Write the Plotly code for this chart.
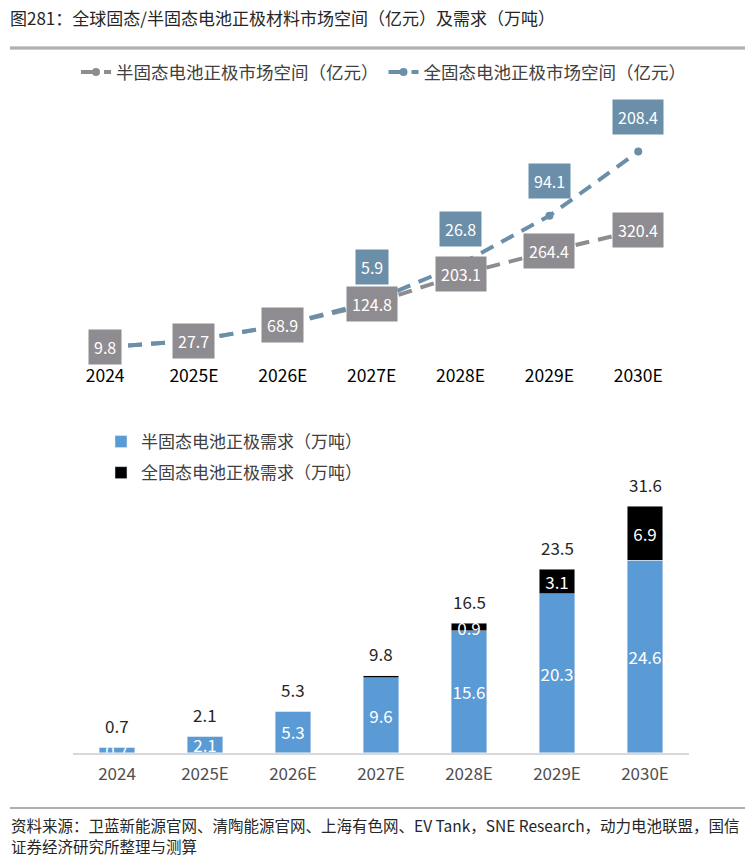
import plotly.graph_objects as go

# ---------------- data ----------------
years = ["2024", "2025E", "2026E", "2027E", "2028E", "2029E", "2030E"]
semi_market = [9.8, 27.7, 68.9, 124.8, 203.1, 264.4, 320.4]      # 亿元
all_market = [0, 0, 0, 5.9, 26.8, 94.1, 208.4]                    # 亿元
semi_demand = [0.7, 2.1, 5.3, 9.6, 15.6, 20.3, 24.6]              # 万吨
all_demand = [0, 0, 0, 0.2, 0.9, 3.1, 6.9]                        # 万吨
total_demand = [0.7, 2.1, 5.3, 9.8, 16.5, 23.5, 31.6]             # 万吨

title_text = "图281：全球固态/半固态电池正极材料市场空间（亿元）及需求（万吨）"
source_line1 = "资料来源：卫蓝新能源官网、清陶能源官网、上海有色网、EV Tank，SNE Research，动力电池联盟，国信"
source_line2 = "证券经济研究所整理与测算"
name_semi_m = "半固态电池正极市场空间（亿元）"
name_all_m = "全固态电池正极市场空间（亿元）"
name_semi_d = "半固态电池正极需求（万吨）"
name_all_d = "全固态电池正极需求（万吨）"

FONT = "Noto Sans CJK SC, Noto Sans, sans-serif"
GREY = "#8e8c90"
BLUEGREY = "#6b8fa9"
BAR_BLUE = "#5b9bd5"
RULE = "#b0b0b0"

W, H = 752, 858
def py(px):
    return 1 - px / H
def px_x(px):
    return px / W

xi = list(range(len(years)))

fig = go.Figure()

# ---------- top: line chart (stacked lines, no fill) ----------
fig.add_trace(go.Scatter(
    x=xi, y=semi_market, name=name_semi_m, mode="lines+markers",
    stackgroup="mkt", fill="none",
    line=dict(color=GREY, width=4, dash="14px,9px"),
    marker=dict(color=GREY, size=8),
    xaxis="x", yaxis="y", legend="legend",
))
fig.add_trace(go.Scatter(
    x=xi, y=all_market, name=name_all_m, mode="lines+markers",
    stackgroup="mkt", fill="none",
    line=dict(color=BLUEGREY, width=4, dash="14px,9px"),
    marker=dict(color=BLUEGREY, size=8),
    xaxis="x", yaxis="y", legend="legend",
))

annotations = []
for i in xi:
    annotations.append(dict(
        x=i, y=semi_market[i], xref="x", yref="y", text=f"{semi_market[i]}",
        showarrow=False, bgcolor=GREY, borderpad=5,
        font=dict(family=FONT, size=16, color="white"),
    ))
    if all_market[i] > 0:
        annotations.append(dict(
            x=i, y=semi_market[i] + all_market[i], xref="x", yref="y",
            text=f"{all_market[i]}", showarrow=False, bgcolor=BLUEGREY,
            borderpad=5, yshift=35,
            font=dict(family=FONT, size=16, color="white"),
        ))

# ---------- bottom: stacked bars ----------
fig.add_trace(go.Bar(
    x=xi, y=semi_demand, name=name_semi_d, marker_color=BAR_BLUE,
    text=[f"{v}" for v in semi_demand], textposition="inside", textangle=0,
    insidetextanchor="middle", constraintext="none",
    textfont=dict(family=FONT, size=17, color="white"),
    width=0.4, xaxis="x2", yaxis="y2", legend="legend2", legendgroup="a",
))
fig.add_trace(go.Bar(
    x=xi, y=all_demand, name=name_all_d, marker_color="#000000",
    text=[f"{v}" if v >= 0.5 else "" for v in all_demand], textposition="inside",
    textangle=0, insidetextanchor="middle", constraintext="none",
    textfont=dict(family=FONT, size=17, color="white"),
    width=0.4, xaxis="x2", yaxis="y2", legend="legend2", legendgroup="b",
))
for i in xi:
    annotations.append(dict(
        x=i, y=semi_demand[i] + all_demand[i], xref="x2", yref="y2",
        text=f"{total_demand[i]}", showarrow=False, yshift=22,
        font=dict(family=FONT, size=17, color="#262626"),
    ))

# ---------- decorative rule under the title (overlay axis spanning the page) ----------
fig.add_trace(go.Scatter(
    x=[px_x(10), px_x(745)], y=[py(48), py(48)], mode="lines",
    line=dict(color=RULE, width=2.5), showlegend=False, hoverinfo="skip",
    xaxis="x3", yaxis="y3", cliponaxis=False,
))

# ---------- title / source ----------
annotations.append(dict(
    x=px_x(8), y=py(17), xref="paper", yref="paper", xanchor="left", yanchor="middle",
    text=title_text, showarrow=False, font=dict(family=FONT, size=17, color="#262626"),
))
for txt, ypx in [(source_line1, 825), (source_line2, 846)]:
    annotations.append(dict(
        x=px_x(9), y=py(ypx), xref="paper", yref="paper", xanchor="left", yanchor="middle",
        text=txt, showarrow=False, align="left",
        font=dict(family=FONT, size=15.5, color="#262626"),
    ))

shapes = [
    dict(type="rect", xref="paper", yref="paper", x0=px_x(10), x1=px_x(745),
         y0=py(49.5), y1=py(46.5), fillcolor=RULE, line=dict(width=0), layer="above"),
    dict(type="rect", xref="paper", yref="paper", x0=px_x(10), x1=px_x(745),
         y0=py(809), y1=py(807), fillcolor=RULE, line=dict(width=0), layer="above"),
]

fig.update_layout(
    width=W, height=H, margin=dict(l=0, r=0, t=0, b=0),
    paper_bgcolor="white", plot_bgcolor="rgba(0,0,0,0)",
    font=dict(family=FONT, color="#262626"),
    barmode="stack",
    annotations=annotations, shapes=shapes,
    xaxis=dict(domain=[px_x(60.7), px_x(682.7)], range=[-0.5, 6.5],
               tickvals=xi, ticktext=years,
               showline=False, showgrid=False, zeroline=False, ticks="",
               tickfont=dict(family=FONT, size=17.5, color="#000000"),
               ticklabelstandoff=5, anchor="y"),
    yaxis=dict(domain=[py(358.5), py(139.8)], range=[-20, 560], visible=False,
               anchor="x"),
    xaxis2=dict(domain=[px_x(73), px_x(689)], range=[-0.5, 6.5],
                tickvals=xi, ticktext=years,
                showline=True, linecolor="#d9d9d9", linewidth=1.5,
                showgrid=False, zeroline=False, ticks="",
                tickfont=dict(family=FONT, size=17, color="#505050"),
                ticklabelstandoff=5, anchor="y2"),
    yaxis2=dict(domain=[py(752.7), py(470.8)], range=[0, 36], visible=False,
                anchor="x2"),
    xaxis3=dict(domain=[0, 1], range=[0, 1], visible=False, fixedrange=True,
                anchor="y3"),
    yaxis3=dict(domain=[0, 1], range=[0, 1], visible=False, fixedrange=True,
                anchor="x3"),
    legend=dict(orientation="h", x=0.51, xanchor="center", y=py(54), yanchor="top",
                font=dict(family=FONT, size=17.5, color="#404040"),
                bgcolor="rgba(0,0,0,0)", itemwidth=30, borderwidth=0),
    legend2=dict(orientation="v", x=px_x(101), xanchor="left", y=py(424), yanchor="top",
                 font=dict(family=FONT, size=17, color="#404040"),
                 traceorder="grouped", tracegroupgap=6,
                 bgcolor="rgba(0,0,0,0)"),
)

fig.write_html("out.html", config={"displayModeBar": False},
               post_script="document.body.style.margin='0';document.body.style.overflow='hidden';")
